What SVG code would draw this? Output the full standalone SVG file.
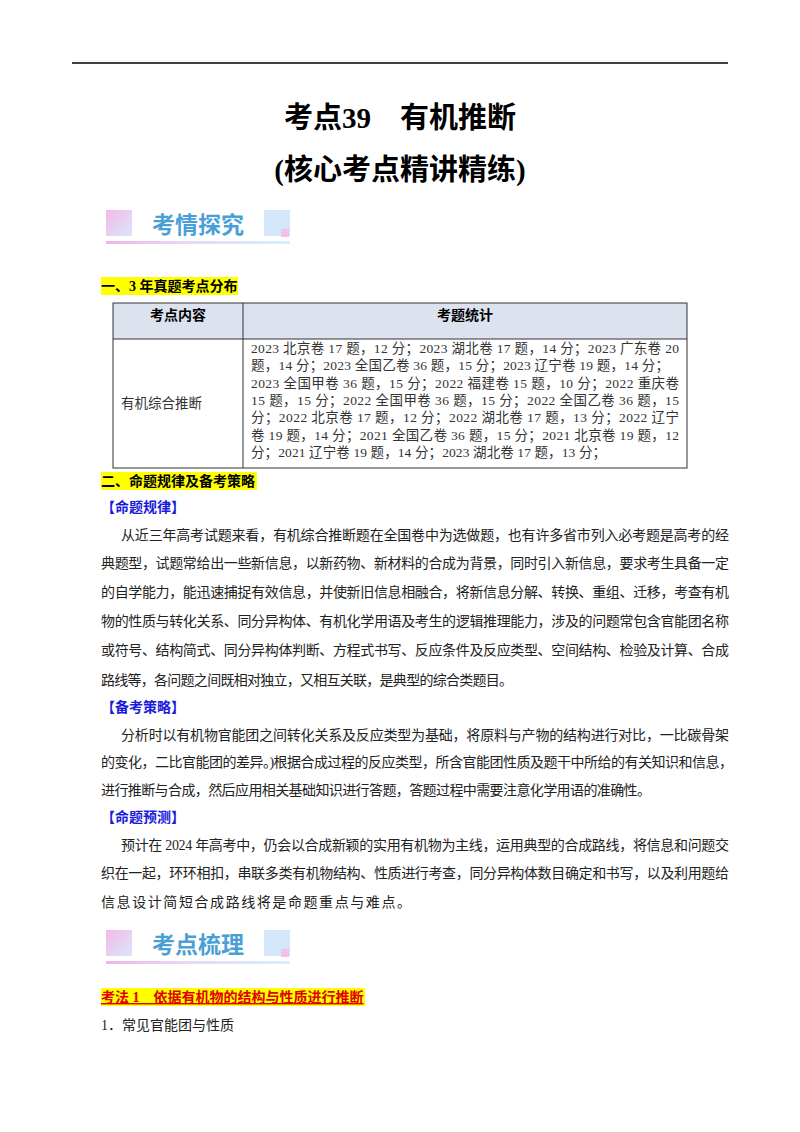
<svg xmlns="http://www.w3.org/2000/svg" width="800" height="1132" viewBox="0 0 800 1132">
<style>
.t{font-family:"Liberation Serif","Noto Sans CJK SC",serif;font-size:14px;fill:#222}
.s{font-family:"Liberation Serif","Noto Sans CJK SC",serif;font-size:13.5px;fill:#333}
.b{font-family:"Liberation Serif","Noto Sans CJK SC",serif;font-size:14px;font-weight:bold;fill:#000}
.bl{font-family:"Liberation Serif","Noto Sans CJK SC",serif;font-size:14px;font-weight:bold;fill:#1a1adb}
.h{font-family:"Liberation Serif","Noto Sans CJK SC",serif;font-size:29px;font-weight:bold;fill:#000}
.bd{font-family:"Noto Sans CJK SC",sans-serif;font-size:23px;font-weight:bold;fill:#4a9fd6}
</style>
<defs>
<linearGradient id="pk" x1="0" y1="0" x2="1" y2="1"><stop offset="0" stop-color="#f4b8e8"/><stop offset="1" stop-color="#d9e8fb"/></linearGradient>
<linearGradient id="bar" x1="0" x2="1"><stop offset="0" stop-color="#f2b3e6"/><stop offset="0.4" stop-color="#e8d6f4"/><stop offset="1" stop-color="#d6f0fb"/></linearGradient>
<g id="badge">
<rect x="0" y="0" width="26" height="26" fill="url(#pk)"/>
<rect x="158" y="0" width="26" height="26" fill="#d3e6fa"/>
<rect x="175" y="19" width="8" height="8" fill="#f4c0e6"/>
<rect x="0" y="31" width="184" height="3" fill="url(#bar)"/>
</g>
</defs>
<rect width="800" height="1132" fill="#fff"/>
<line x1="72" y1="63" x2="728" y2="63" stroke="#000" stroke-width="1.5"/>
<text class="h" x="400" y="128" text-anchor="middle">考点39　有机推断</text>
<text class="h" x="400" y="180" text-anchor="middle">(核心考点精讲精练)</text>
<g id="badge1"><use href="#badge" x="106" y="210"/><text class="bd" x="198" y="233" text-anchor="middle">考情探究</text></g>
<rect x="101" y="277" width="137" height="18" fill="#ffff00"/>
<text class="b" x="101" y="291">一、3 年真题考点分布</text>
<g id="table">
<rect x="113" y="303" width="574" height="36" fill="#dce3ef"/>
<rect x="113" y="303" width="574" height="165" fill="none" stroke="#333" stroke-width="1"/>
<line x1="113" y1="339" x2="687" y2="339" stroke="#333"/>
<line x1="243" y1="303" x2="243" y2="468" stroke="#333"/>
<text class="b" x="178" y="320" text-anchor="middle" font-size="13">考点内容</text>
<text class="b" x="465" y="320" text-anchor="middle" font-size="13">考题统计</text>
<text class="s" x="121" y="408">有机综合推断</text>
<text class="s" x="251" y="353" textLength="428">2023 北京卷 17 题，12 分；2023 湖北卷 17 题，14 分；2023 广东卷 20</text>
<text class="s" x="251" y="370" textLength="418">题，14 分；2023 全国乙卷 36 题，15 分；2023 辽宁卷 19 题，14 分；</text>
<text class="s" x="251" y="388" textLength="428">2023 全国甲卷 36 题，15 分；2022 福建卷 15 题，10 分；2022 重庆卷</text>
<text class="s" x="251" y="405" textLength="428">15 题，15 分；2022 全国甲卷 36 题，15 分；2022 全国乙卷 36 题，15</text>
<text class="s" x="251" y="422" textLength="428">分；2022 北京卷 17 题，12 分；2022 湖北卷 17 题，13 分；2022 辽宁</text>
<text class="s" x="251" y="440" textLength="428">卷 19 题，14 分；2021 全国乙卷 36 题，15 分；2021 北京卷 19 题，12</text>
<text class="s" x="251" y="457" textLength="355">分；2021 辽宁卷 19 题，14 分；2023 湖北卷 17 题，13 分；</text>
</g>
<rect x="101" y="472" width="156" height="18" fill="#ffff00"/>
<text class="b" x="101" y="486">二、命题规律及备考策略</text>
<text class="bl" x="101" y="512">【命题规律】</text>
<text class="t" x="121" y="540" textLength="608">从近三年高考试题来看，有机综合推断题在全国卷中为选做题，也有许多省市列入必考题是高考的经</text>
<text class="t" x="101" y="568" textLength="628">典题型，试题常给出一些新信息，以新药物、新材料的合成为背景，同时引入新信息，要求考生具备一定</text>
<text class="t" x="101" y="597" textLength="628">的自学能力，能迅速捕捉有效信息，并使新旧信息相融合，将新信息分解、转换、重组、迁移，考查有机</text>
<text class="t" x="101" y="626" textLength="628">物的性质与转化关系、同分异构体、有机化学用语及考生的逻辑推理能力，涉及的问题常包含官能团名称</text>
<text class="t" x="101" y="655" textLength="628">或符号、结构简式、同分异构体判断、方程式书写、反应条件及反应类型、空间结构、检验及计算、合成</text>
<text class="t" x="101" y="685" textLength="412">路线等，各问题之间既相对独立，又相互关联，是典型的综合类题目。</text>
<text class="bl" x="101" y="712">【备考策略】</text>
<text class="t" x="121" y="740" textLength="608">分析时以有机物官能团之间转化关系及反应类型为基础，将原料与产物的结构进行对比，一比碳骨架</text>
<text class="t" x="101" y="767" textLength="632">的变化，二比官能团的差异。)根据合成过程的反应类型，所含官能团性质及题干中所给的有关知识和信息，</text>
<text class="t" x="101" y="795" textLength="550">进行推断与合成，然后应用相关基础知识进行答题，答题过程中需要注意化学用语的准确性。</text>
<text class="bl" x="101" y="822">【命题预测】</text>
<text class="t" x="121" y="850" textLength="608">预计在 2024 年高考中，仍会以合成新颖的实用有机物为主线，运用典型的合成路线，将信息和问题交</text>
<text class="t" x="101" y="878" textLength="628">织在一起，环环相扣，串联多类有机物结构、性质进行考查，同分异构体数目确定和书写，以及利用题给</text>
<text class="t" x="101" y="907" textLength="310">信息设计简短合成路线将是命题重点与难点。</text>
<g id="badge2"><use href="#badge" x="106" y="930"/><text class="bd" x="198" y="953" text-anchor="middle">考点梳理</text></g>
<rect x="101" y="988" width="264" height="18" fill="#ffff00"/>
<text class="b" x="101" y="1002" style="fill:#e00000;text-decoration:underline">考法 1　依据有机物的结构与性质进行推断</text>
<text class="t" x="101" y="1030">1．常见官能团与性质</text>
</svg>
